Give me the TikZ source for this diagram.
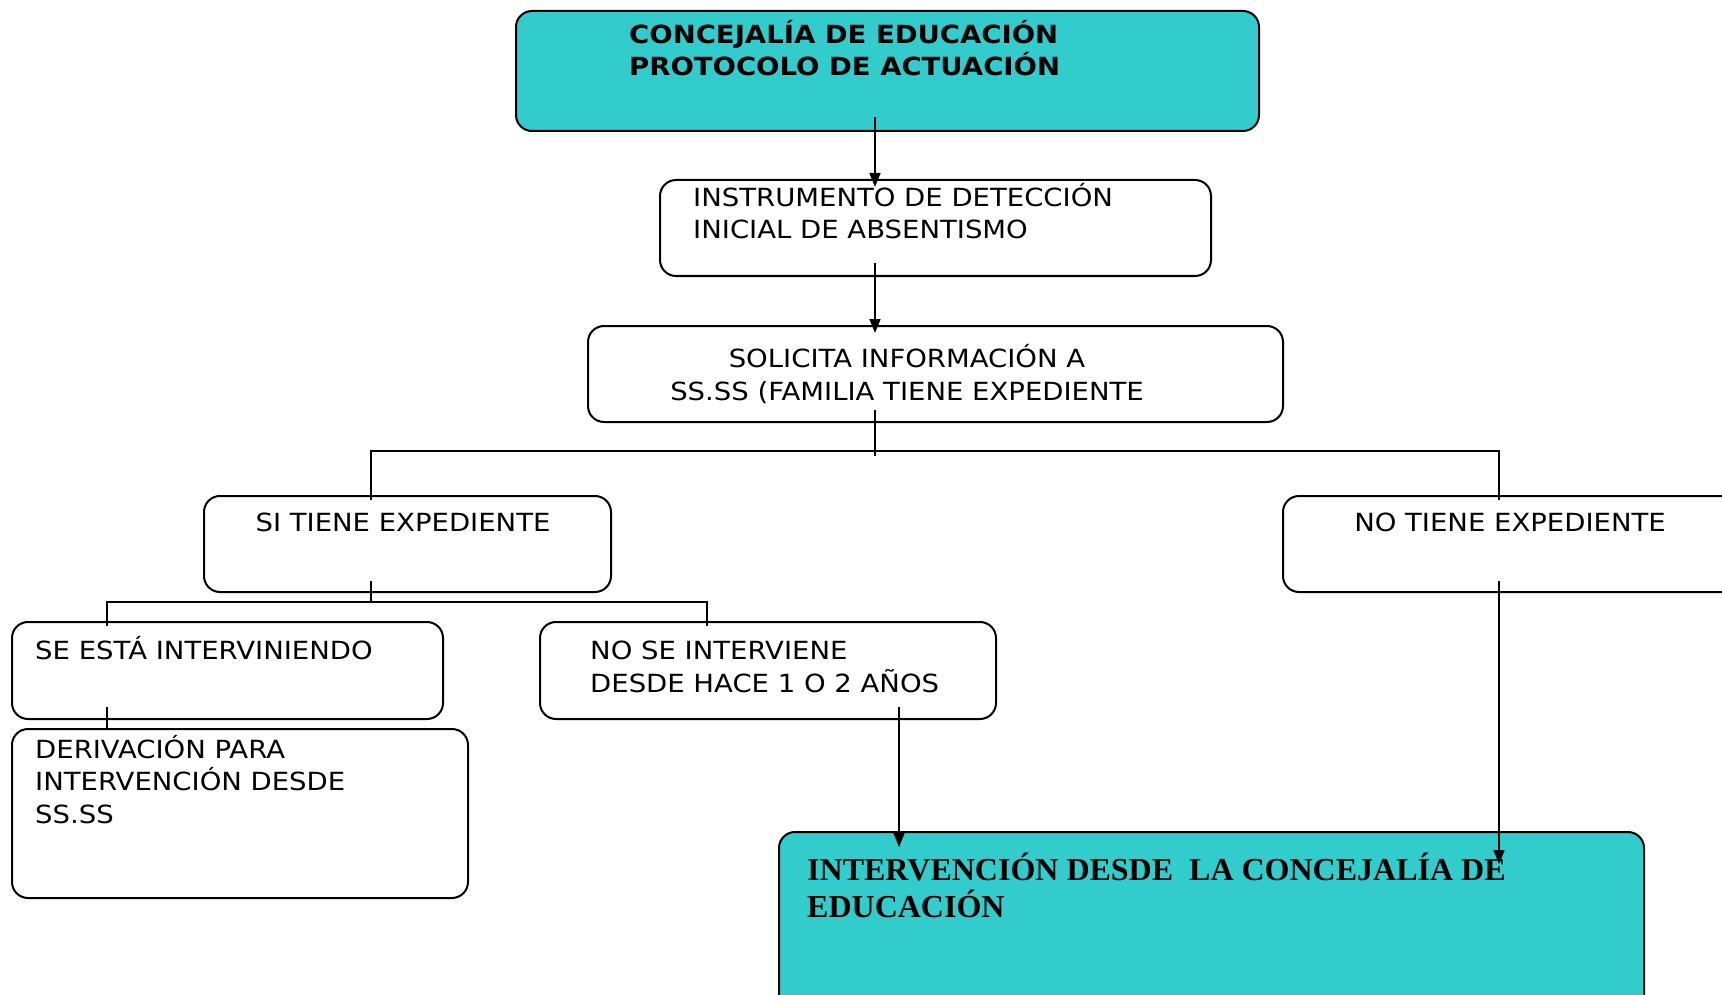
\documentclass[tikz,border=0pt]{standalone}
\usepackage{fontspec}
\setmainfont{DejaVu Sans}[FakeStretch=1.1]
\newfontfamily\timesfont{Liberation Serif}
\usetikzlibrary{arrows.meta}
\definecolor{turq}{HTML}{33CCCC}

\begin{document}
\begin{tikzpicture}[x=1pt,y=-1pt,
  box/.style={draw, line width=2pt, rounded corners=16pt, anchor=north west, inner sep=0pt},
  tag/.style={anchor=base west, align=left, inner sep=0pt, font=\fontsize{25}{32.5}\selectfont},
  link/.style={line width=1.6pt},
  arr/.style={link, -{Triangle[length=14pt,width=11pt]}}]
\useasboundingbox (0,0) rectangle (1722,995);
\clip (0,0) rectangle (1722,995);
% boxes
\node[box, fill=turq, minimum width=743pt, minimum height=120pt] (top) at (515,10) {};
\node[box, minimum width=551pt, minimum height=96pt] (ins) at (659,179) {};
\node[box, minimum width=695pt, minimum height=96pt] (sol) at (587,325) {};
\node[box, minimum width=407pt, minimum height=96pt] (si) at (203,495) {};
\node[box, minimum width=478pt, minimum height=96pt] (no) at (1282,495) {};
\node[box, minimum width=431pt, minimum height=97pt] (est) at (11,621) {};
\node[box, minimum width=456pt, minimum height=97pt] (nse) at (539,621) {};
\node[box, minimum width=456pt, minimum height=169pt] (der) at (11,728) {};
\node[box, fill=turq, minimum width=865pt, minimum height=189pt] (int) at (778,831) {};
% texts (base = last line)
\node[tag, font=\fontsize{25}{32}\selectfont\bfseries] (topt) at (629,76) {CONCEJALÍA DE EDUCACIÓN\\PROTOCOLO DE ACTUACIÓN};
\node[tag] (inst) at (693,239) {INSTRUMENTO DE DETECCIÓN\\INICIAL DE ABSENTISMO};
\node[tag, anchor=base, align=center] (solt) at (907,400) {SOLICITA INFORMACIÓN A\\SS.SS (FAMILIA TIENE EXPEDIENTE};
\node[tag, anchor=base] (sit) at (403,531) {SI TIENE EXPEDIENTE};
\node[tag, anchor=base] (not) at (1510,531) {NO TIENE EXPEDIENTE};
\node[tag] (estt) at (35,659) {SE ESTÁ INTERVINIENDO};
\node[tag] (nset) at (590,692) {NO SE INTERVIENE\\DESDE HACE 1 O 2 AÑOS};
\node[tag] (dert) at (35,823) {DERIVACIÓN PARA\\INTERVENCIÓN DESDE\\SS.SS};
\node[tag, font=\fontsize{32}{37}\selectfont\timesfont\bfseries] (intt) at (807,917) {INTERVENCIÓN DESDE\ \ LA CONCEJALÍA DE\\EDUCACIÓN};
% junctions
\coordinate (bus) at (875,451);
\coordinate (busl) at (371,451);
\coordinate (busr) at (1499,451);
\coordinate (sub) at (371,602);
\coordinate (subl) at (107,602);
\coordinate (subr) at (707,602);
\coordinate (drop) at (899,705);
% connectors
\draw[arr] ([yshift=15pt]top.south -| bus) -- ([yshift=-8pt]ins.north -| bus);
\draw[arr] ([yshift=14pt]ins.south -| bus) -- ([yshift=-8pt]sol.north -| bus);
\draw[link] ([yshift=13pt]sol.south -| bus) -- ([yshift=-5pt]bus);
\draw[link] ([yshift=-5pt]si.north -| busl) -- (busl) -- (busr) -- ([yshift=-5pt]no.north -| busr);
\draw[link] ([yshift=12pt]si.south -| sub) -- (sub);
\draw[link] ([yshift=-5pt]est.north -| subl) -- (subl) -- (subr) -- ([yshift=-5pt]nse.north -| subr);
\draw[link] ([yshift=13pt]est.south -| subl) -- ([yshift=-2pt]der.north -| subl);
\draw[arr] ([yshift=13pt]nse.south -| drop) -- ([yshift=-16pt]int.north -| drop);
\draw[arr] ([yshift=12pt]no.south -| busr) -- ([yshift=-33pt]int.north -| busr);
\end{tikzpicture}
\end{document}
